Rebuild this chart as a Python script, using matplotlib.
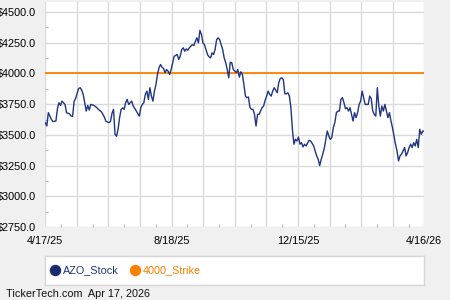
import numpy as np
import matplotlib
matplotlib.use('Agg')
import matplotlib.pyplot as plt
from matplotlib.lines import Line2D

# ---- data ----
day = [0, 1, 2, 4, 5, 7, 8, 9, 10, 11, 13, 14, 16, 17, 18, 19, 20, 22, 23, 24,
       25, 27, 28, 29, 30, 31, 32, 34, 35, 37, 38, 39, 40, 42, 43, 44, 45, 46, 47, 48,
       49, 50, 51, 52, 53, 54, 55, 56, 57, 58, 59, 60, 61, 62, 63, 64, 65, 66, 67, 68,
       69, 70, 71, 72, 73, 74, 75, 76, 77, 78, 79, 80, 81, 82, 83, 84, 85, 87, 88, 89,
       90, 91, 92, 93, 94, 95, 97, 98, 99, 100, 101, 102, 103, 104, 105, 106, 107, 108, 109, 110,
       111, 112, 113, 114, 115, 116, 117, 118, 119, 120, 121, 122, 123, 124, 126, 127, 128, 129, 130, 131,
       132, 133, 134, 135, 136, 137, 138, 139, 140, 141, 142, 143, 144, 145, 146, 147, 148, 149, 150, 151,
       153, 154, 155, 156, 157, 158, 159, 160, 161, 162, 163, 164, 165, 166, 167, 168, 169, 170, 171, 172,
       174, 175, 176, 177, 178, 179, 180, 181, 182, 183, 184, 186, 187, 188, 189, 190, 191, 192, 193, 194,
       195, 196, 197, 198, 199, 200, 201, 202, 203, 204, 205, 206, 207, 208, 209, 210, 211, 212, 213, 214,
       215, 216, 217, 218, 219, 220, 221, 222, 223, 224, 225, 226, 227, 228, 229, 230, 231, 232, 233, 234,
       235, 236, 237, 238, 239, 240, 241, 242, 243, 244, 245, 246, 247, 248, 249, 250]
price = [3600, 3572, 3681, 3627, 3608, 3613, 3713, 3762, 3740, 3775, 3748, 3681, 3671, 3653, 3651, 3773, 3797, 3878, 3884, 3864,
         3830, 3694, 3740, 3702, 3748, 3744, 3740, 3722, 3708, 3688, 3667, 3643, 3610, 3600, 3610, 3675, 3708, 3505, 3489, 3545,
         3640, 3708, 3720, 3708, 3762, 3789, 3748, 3762, 3775, 3735, 3716, 3694, 3673, 3653, 3722, 3748, 3762, 3830, 3856, 3789,
         3884, 3816, 3775, 3856, 3911, 3992, 4046, 4073, 4051, 4041, 4006, 4032, 4019, 3992, 4032, 4087, 4140, 4154, 4114, 4140,
         4195, 4209, 4181, 4200, 4189, 4209, 4235, 4227, 4262, 4290, 4249, 4351, 4317, 4249, 4235, 4195, 4154, 4136, 4127, 4168,
         4154, 4195, 4276, 4290, 4276, 4235, 4195, 4127, 4087, 4032, 3965, 4092, 4087, 4032, 4006, 4032, 3970, 4014, 3992, 3911,
         3816, 3803, 3808, 3722, 3708, 3708, 3667, 3572, 3667, 3667, 3694, 3722, 3735, 3781, 3816, 3856, 3830, 3816, 3856, 3884,
         3843, 3925, 3959, 3965, 3951, 3835, 3835, 3843, 3816, 3722, 3545, 3424, 3464, 3450, 3483, 3424, 3437, 3402, 3424, 3410,
         3456, 3450, 3432, 3410, 3369, 3329, 3302, 3250, 3302, 3343, 3390, 3532, 3491, 3464, 3478, 3559, 3600, 3681, 3694, 3694,
         3789, 3803, 3762, 3713, 3722, 3694, 3722, 3667, 3613, 3681, 3640, 3681, 3748, 3775, 3856, 3803, 3748, 3748, 3748, 3816,
         3795, 3694, 3667, 3653, 3884, 3735, 3653, 3735, 3694, 3748, 3694, 3640, 3681, 3613, 3559, 3491, 3424, 3369, 3288, 3329,
         3343, 3369, 3397, 3329, 3356, 3397, 3424, 3397, 3437, 3410, 3464, 3397, 3545, 3505, 3532, 3530]
strike = 4000
n_days = 250
date_labels = ['4/17/25', '8/18/25', '12/15/25', '4/16/26']
y_ticks = [2750, 3000, 3250, 3500, 3750, 4000, 4250, 4500]
series_names = ['AZO_Stock', '4000_Strike']
footer = 'TickerTech.com  Apr 17, 2026'

NAVY = '#1f3582'
NAVY_DARK = '#1a2a6c'
ORANGE = '#ff8000'
FS = 7.8

plt.rcParams['font.family'] = ['Liberation Sans', 'DejaVu Sans']

W, H = 450, 300
fig = plt.figure(figsize=(4.5, 3), dpi=100, facecolor='#f0f0f0')
ax = fig.add_axes([45.3 / W, 1 - 227 / H, 379 / W, 225 / H])
ax.set_facecolor('white')
ax.set_xlim(0, n_days)
ax.set_ylim(2750, 4582)

grid_pos = np.linspace(0, n_days, 13)
ax.set_xticks(grid_pos)
lab_iter = iter(date_labels)
ax.set_xticklabels([next(lab_iter) if i % 4 == 0 else '' for i in range(13)])
ax.set_xticks((grid_pos[:-1] + grid_pos[1:]) / 2, minor=True)
ax.set_yticks(y_ticks)
ax.set_yticklabels([f'${v:.1f}' for v in y_ticks])
ax.set_yticks(np.array(y_ticks[:-1]) + 125, minor=True)

ax.grid(True, which='major', color='#dadada', lw=1.0)
ax.tick_params(which='major', length=0, pad=6.5, labelsize=FS, colors='black')
ax.tick_params(which='minor', direction='in', length=2.5, color='#b5b5b5', width=0.8)
for s in ax.spines.values():
    s.set_visible(False)

ax.axhline(strike, color=ORANGE, lw=1.3, zorder=3)
ax.plot(day, price, color=NAVY, lw=1.0, zorder=4)

# legend box
lax = fig.add_axes([45.3 / W, 1 - 285 / H, 379 / W, 29 / H])
lax.set_facecolor('white')
lax.set_xticks([]); lax.set_yticks([])
for s in lax.spines.values():
    s.set_color('#d6d6d6'); s.set_linewidth(1.0)
handles = [Line2D([], [], ls='none', marker='o', markersize=7.2, color=NAVY_DARK),
           Line2D([], [], ls='none', marker='o', markersize=7.2, color=ORANGE)]
leg = lax.legend(handles, series_names, loc='center left', frameon=False, ncol=2,
                 fontsize=FS, handlelength=1.0, handletextpad=0.25,
                 columnspacing=1.0, borderaxespad=0, borderpad=0.38,
                 labelcolor=[NAVY, ORANGE])

fig.text(6 / W, 1 - 294.3 / H, footer, va='center', ha='left', fontsize=FS, color='#111111')

fig.savefig('out.png', dpi=100, facecolor=fig.get_facecolor())
